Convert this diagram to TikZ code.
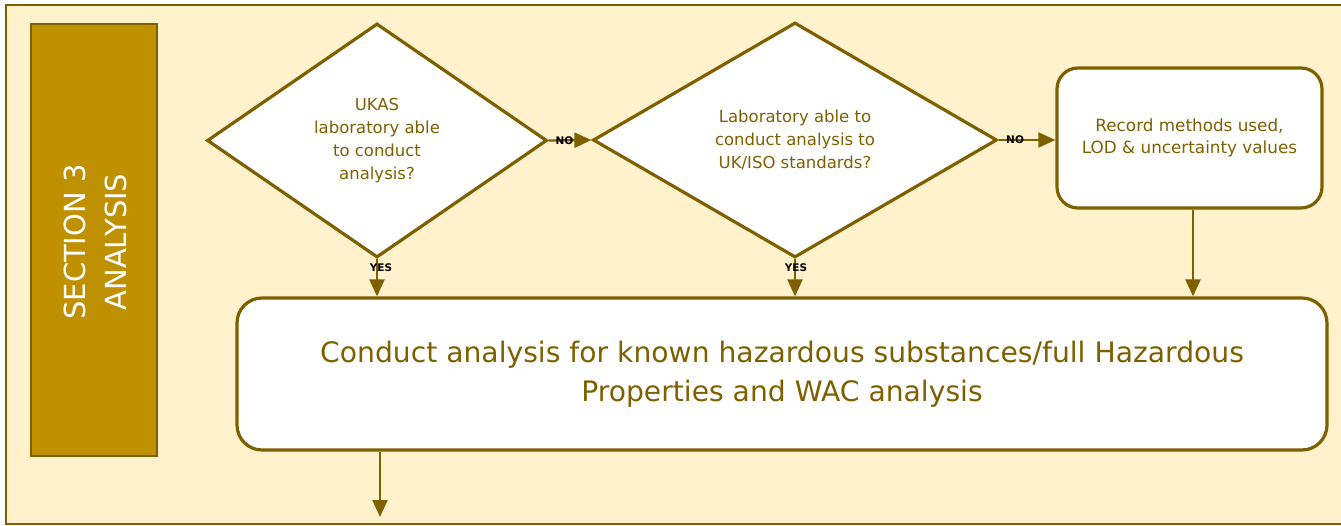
\documentclass[tikz,border=0pt]{standalone}
\usepackage{fontspec}
\setmainfont{DejaVu Sans}
\usetikzlibrary{shapes.geometric,arrows.meta}
\definecolor{brd}{HTML}{7F6000}
\definecolor{panelfill}{HTML}{FFF2CC}
\definecolor{sectfill}{HTML}{BF9000}
\begin{document}
\begin{tikzpicture}[x=1pt,y=-1pt,
  panelbox/.style={draw=brd,line width=2.8pt,fill=panelfill},
  sectbox/.style={draw=brd,line width=2.5pt,fill=sectfill,inner sep=0pt},
  decision/.style={diamond,draw=brd,line width=3.2pt,fill=white,inner sep=0pt,aspect=1.45,align=center,text=brd,font=\fontsize{16.5}{23}\selectfont},
  roundbox/.style={draw=brd,line width=3.2pt,fill=white,inner sep=0pt,align=center,text=brd},
  arr/.style={draw=brd,line width=2.3pt,-{Triangle[length=17pt,width=15pt]}},
  lbl/.style={font=\fontsize{10.5}{11}\bfseries\selectfont,text=black,inner sep=0pt}]
\useasboundingbox (0,0) rectangle (1341,525);
\clip (0,0) rectangle (1341,525);
\fill[white] (0,0) rectangle (1341,525);
\draw[panelbox] (6,5) rectangle (1360,524);
\node[sectbox,minimum width=126pt,minimum height=432pt] (sec) at (94,240) {};
\node[rotate=90,text=white,align=center,font=\fontsize{29}{41}\selectfont] (sectxt) at (95,242) {SECTION 3\\ANALYSIS};
\node[decision,minimum width=340pt,minimum height=234pt] (d1) at (377,140.5) {UKAS\\laboratory able\\to conduct\\analysis?};
\node[decision,minimum width=404pt,minimum height=235pt] (d2) at (795,140) {Laboratory able to\\conduct analysis to\\UK/ISO standards?};
\node[roundbox,rounded corners=21pt,minimum width=265pt,minimum height=140pt,font=\fontsize{16.8}{22}\selectfont] (rec) at (1189.5,138) {Record methods used,\\LOD \& uncertainty values};
\node[roundbox,rounded corners=25pt,minimum width=1090pt,minimum height=152pt,font=\fontsize{28.2}{39}\selectfont] (big) at (782,374) {Conduct analysis for known hazardous substances/full Hazardous\\Properties and WAC analysis};
\draw[arr] (d1.south) -- node[lbl,pos=0.24,xshift=4pt]{YES} (d1.south |- big.north);
\draw[arr] (d2.south) -- node[lbl,pos=0.24,xshift=1pt]{YES} (d2.south |- big.north);
\draw[arr] (d1.east) -- node[lbl,pos=0.37]{NO} (d2.west);
\draw[arr] (d2.east) -- node[lbl,pos=0.29]{NO} (d2.east -| rec.west);
\draw[arr] ([xshift=3.5pt]rec.south) -- ([xshift=3.5pt]rec.south |- big.north);
\coordinate (out) at (380,517);
\draw[arr] (out |- big.south) -- (out);
\end{tikzpicture}
\end{document}
